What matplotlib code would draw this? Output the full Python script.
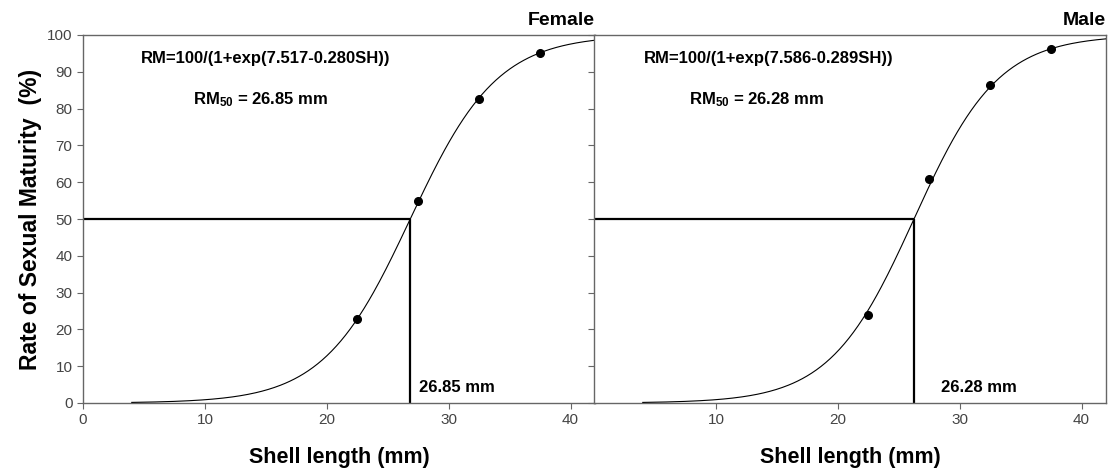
import numpy as np
import matplotlib
matplotlib.use("Agg")
import matplotlib.pyplot as plt

plt.rcParams['font.family'] = ['Liberation Sans', 'DejaVu Sans']
plt.rcParams['mathtext.fontset'] = 'custom'
plt.rcParams['mathtext.rm'] = 'Liberation Sans:bold'
plt.rcParams['mathtext.it'] = 'Liberation Sans:bold'
plt.rcParams['mathtext.bf'] = 'Liberation Sans:bold'

# Data
panel_titles = ["Female", "Male"]
size_classes = [22.5, 27.5, 32.5, 37.5]
female_rm = [22.8, 55.0, 82.7, 95.2]
male_rm = [24.0, 61.0, 86.5, 96.2]
female_params = [7.517, 0.280]
male_params = [7.586, 0.289]
rm50_values = [26.85, 26.28]
curve_start, curve_end = 4.0, 42.0
x_ticks = [0, 10, 20, 30, 40]
y_ticks = [0, 10, 20, 30, 40, 50, 60, 70, 80, 90, 100]

fig = plt.figure(figsize=(11.08, 4.74), dpi=100)
W, H = 1108, 474
bottom = 1 - 403 / H
top = 1 - 35 / H
ax1 = fig.add_axes([83 / W, bottom, (595 - 83) / W, top - bottom])
ax2 = fig.add_axes([594 / W, bottom, (1106 - 594) / W, top - bottom])

spine_col = '#666666'
series = [female_rm, male_rm]
params = [female_params, male_params]

for i, ax in enumerate([ax1, ax2]):
    a, b = params[i]
    xs = np.linspace(curve_start, curve_end, 300)
    ys = 100.0 / (1.0 + np.exp(a - b * xs))
    ax.plot(xs, ys, color='black', lw=0.8, zorder=3)
    ax.plot(size_classes, series[i], 'o', color='black', ms=5.5, zorder=4)
    r = rm50_values[i]
    ax.plot([0, r], [50, 50], color='black', lw=1.6, solid_capstyle='butt', zorder=2)
    ax.plot([r, r], [0, 50], color='black', lw=1.6, solid_capstyle='butt', zorder=2)
    ax.set_xlim(0, 42)
    ax.set_ylim(0, 100)
    ax.set_xticks(x_ticks)
    ax.set_yticks(y_ticks)
    for s in ax.spines.values():
        s.set_color(spine_col)
        s.set_linewidth(1.0)
    ax.tick_params(direction='out', length=4, width=0.8, color=spine_col,
                   labelsize=11, labelcolor='#444444')
    coef = "RM=100/(1+exp(%.3f-%.3fSH))" % (a, b)
    ax.text(15.0 if i == 0 else 14.3, 93.7, coef, ha='center', va='center',
            fontsize=12, fontweight='bold')
    ax.text(14.6 if i == 0 else 13.3, 82.3, "RM$_{50}$ = %.2f mm" % r,
            ha='center', va='center', fontsize=12, fontweight='bold')
    ax.text(r + (0.7 if i == 0 else 2.2), 4.3, "%.2f mm" % r, ha='left', va='center',
            fontsize=12, fontweight='bold')
    ax.text(1.0, 1.015, panel_titles[i], transform=ax.transAxes, ha='right',
            va='bottom', fontsize=14, fontweight='bold')
    ax.set_xlabel("Shell length (mm)", fontsize=15.5, fontweight='bold', labelpad=14)

ax2.tick_params(axis='y', labelleft=False)
ax2.set_xticks(x_ticks[1:])
ax1.set_ylabel("Rate of Sexual Maturity  (%)", fontsize=16.5, fontweight='bold', labelpad=4)

fig.savefig("out.png", dpi=100)
